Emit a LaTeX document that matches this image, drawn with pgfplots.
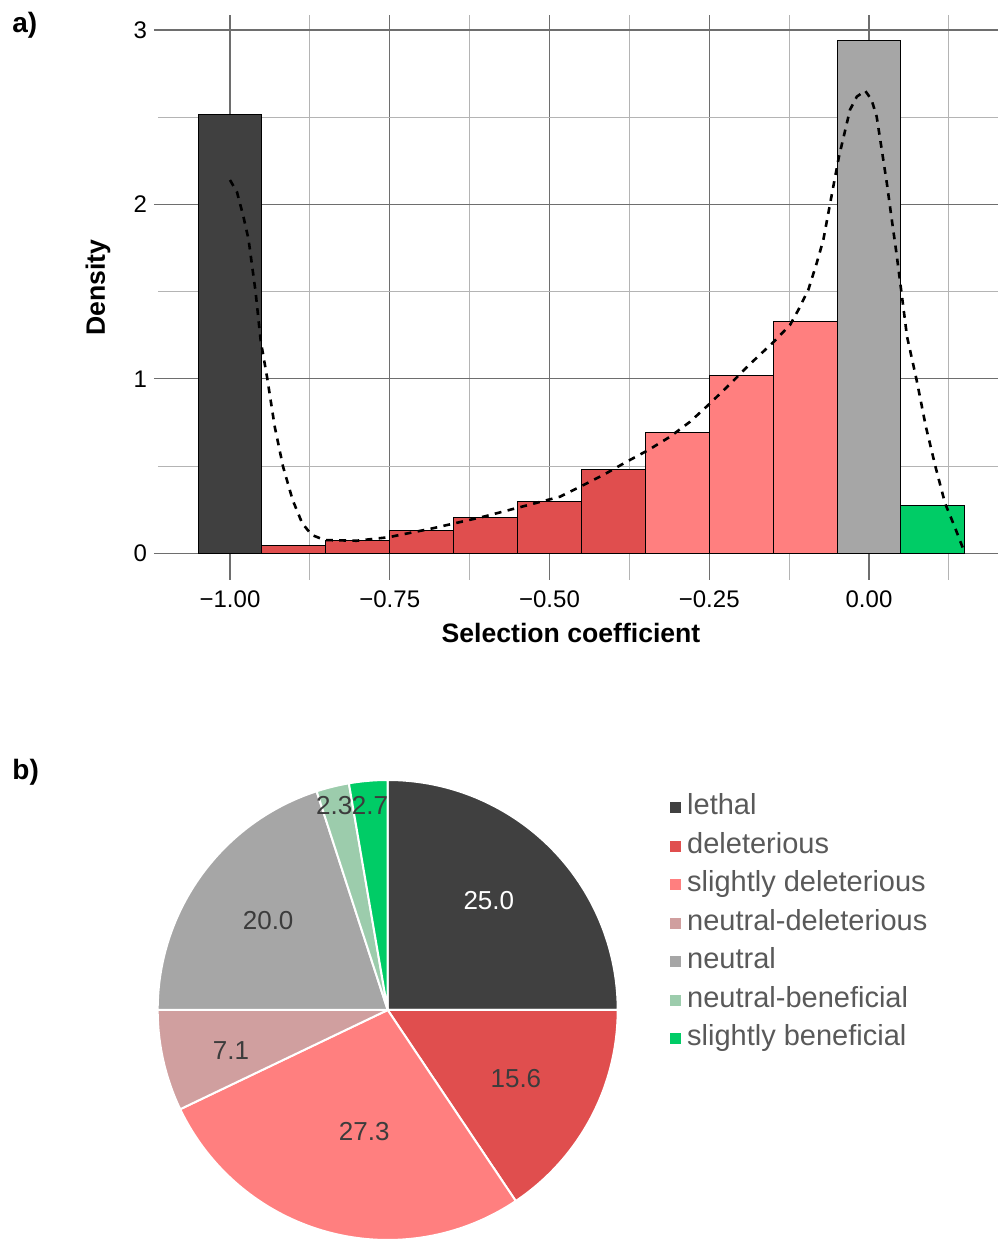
\documentclass[border=0pt]{standalone}
\usepackage{pgfplots}
\pgfplotsset{compat=1.18}
\usepackage{fontspec}
\setmainfont{Liberation Sans}
\definecolor{lethal}{HTML}{404040}
\definecolor{delet}{HTML}{E04E4E}
\definecolor{sdelet}{HTML}{FF7F7F}
\definecolor{ndelet}{HTML}{D09F9F}
\definecolor{neutral}{HTML}{A6A6A6}
\definecolor{nbenef}{HTML}{9CCCAC}
\definecolor{sbenef}{HTML}{00CC66}
\definecolor{majgrid}{HTML}{6E6E6E}
\definecolor{mingrid}{HTML}{B4B4B4}
\definecolor{pietext}{HTML}{3C3C3C}
\definecolor{legtext}{HTML}{595959}

% pie shares (percent)
\def\vA{25.0}\def\vB{15.6}\def\vC{27.3}\def\vD{7.1}\def\vE{20.0}\def\vF{2.3}\def\vG{2.7}

\newcommand\slice[3]{\fill[#3, draw=white, line width=1pt, line join=round] (axis cs:0,0) -- (axis cs:{cos(#1)},{sin(#1)}) arc[start angle=#1, end angle=#2, radius=115pt] -- cycle;}
% #1,#2 slice angles, #3 radius factor, #4 text, #5 colour, #6 angular offset
\newcommand\plabel[6]{\node[text=#5, font=\fontsize{13}{15}\selectfont, inner sep=0pt] at (axis cs:{#3*cos(((#1)+(#2))/2+(#6))},{#3*sin(((#1)+(#2))/2+(#6))}) {#4};}
\newcommand\legsq[1]{\addlegendimage{legend image code/.code={\fill[#1] (0pt,-2.5pt) rectangle (5pt,2.5pt);}}}

\begin{document}
\begin{tikzpicture}
\useasboundingbox (0,0) rectangle (499pt,619.5pt);
\pgfmathsetmacro\aA{90}
\pgfmathsetmacro\aB{\aA-3.6*\vA}
\pgfmathsetmacro\aC{\aB-3.6*\vB}
\pgfmathsetmacro\aD{\aC-3.6*\vC}
\pgfmathsetmacro\aE{\aD-3.6*\vD}
\pgfmathsetmacro\aF{\aE-3.6*\vE}
\pgfmathsetmacro\aG{\aF-3.6*\vF}
\pgfmathsetmacro\aH{\aG-3.6*\vG}

\node[anchor=base west, inner sep=0pt, font=\fontsize{14}{16}\selectfont\bfseries] at (6pt,603pt) {a)};
\node[anchor=base west, inner sep=0pt, font=\fontsize{14}{16}\selectfont\bfseries] at (6pt,229.5pt) {b)};

\begin{axis}[
  at={(79pt,329.5pt)}, anchor=south west,
  scale only axis, width=420pt, height=282.5pt,
  xmin=-1.11268, xmax=0.20188, ymin=-0.1531, ymax=3.086,
  axis line style={draw=none},
  xtick={-1,-0.75,-0.5,-0.25,0},
  xticklabels={−1.00,−0.75,−0.50,−0.25,0.00},
  ytick={0,1,2,3}, yticklabels={0,1,2,3},
  minor xtick={-0.875,-0.625,-0.375,-0.125,0.125},
  minor ytick={0.5,1.5,2.5},
  xmajorgrids, ymajorgrids, xminorgrids, yminorgrids,
  major grid style={majgrid, line width=0.6pt},
  minor grid style={mingrid, line width=0.5pt},
  xtick style={draw=none}, minor tick style={draw=none},
  ytick style={majgrid, line width=0.6pt},
  tick align=outside, major tick length=2pt,
  ytick pos=left,
  tick label style={font=\fontsize{12}{14}\selectfont, black},
  /pgf/number format/assume math mode=true,
  xlabel={Selection coefficient}, ylabel={Density},
  label style={font=\fontsize{13.3}{15}\selectfont\bfseries},
  xlabel style={at={(axis description cs:0.4917,0)}, anchor=center, yshift=-26.35pt},
  ylabel style={at={(axis description cs:-0.0714,0.517)}, anchor=center},
]
\addplot[ybar interval, fill=lethal, draw=black, line width=0.5pt] coordinates {(-1.05,2.515) (-0.95,0)};
\addplot[ybar interval, fill=delet, draw=black, line width=0.5pt] coordinates {(-0.95,0.042) (-0.85,0.072) (-0.75,0.130) (-0.65,0.207) (-0.55,0.296) (-0.45,0.480) (-0.35,0)};
\addplot[ybar interval, fill=sdelet, draw=black, line width=0.5pt] coordinates {(-0.35,0.692) (-0.25,1.019) (-0.15,1.329) (-0.05,0)};
\addplot[ybar interval, fill=neutral, draw=black, line width=0.5pt] coordinates {(-0.05,2.937) (0.05,0)};
\addplot[ybar interval, fill=sbenef, draw=black, line width=0.5pt] coordinates {(0.05,0.273) (0.15,0)};
\addplot[black, line width=1.3pt, dash pattern=on 3.4pt off 3.2pt] coordinates {
(-1.000,2.14) (-0.989,2.07) (-0.979,1.93) (-0.971,1.80) (-0.960,1.50) (-0.952,1.22)
(-0.942,1.01) (-0.930,0.726) (-0.917,0.497) (-0.902,0.306) (-0.887,0.172) (-0.872,0.105)
(-0.852,0.076) (-0.802,0.072) (-0.752,0.092) (-0.683,0.143) (-0.603,0.210) (-0.533,0.277)
(-0.4836,0.3245) (-0.452,0.382) (-0.4158,0.449) (-0.3792,0.525) (-0.3453,0.592)
(-0.3114,0.668) (-0.2801,0.754) (-0.2515,0.850) (-0.2175,0.970) (-0.1862,1.085)
(-0.1498,1.210) (-0.1236,1.309) (-0.1106,1.395) (-0.095,1.510) (-0.0819,1.663)
(-0.0715,1.796) (-0.0637,1.949) (-0.0559,2.102) (-0.047,2.274)
(-0.0376,2.420) (-0.0297,2.543) (-0.019,2.618) (-0.006,2.652) (0.004,2.60) (0.012,2.504)
(0.020,2.313) (0.028,2.12) (0.035,1.93) (0.043,1.72) (0.051,1.49) (0.0595,1.243)
(0.0745,0.994) (0.089,0.726) (0.104,0.497) (0.119,0.287) (0.134,0.153) (0.149,0.01)};
\end{axis}

\begin{axis}[
  at={(193.85pt,114.5pt)}, anchor=center,
  scale only axis, width=230pt, height=230pt,
  xmin=-1, xmax=1, ymin=-1, ymax=1,
  hide axis, clip=false,
  legend cell align=left,
  legend style={draw=none, fill=none, at={(axis description cs:1.1137,0.9696)}, anchor=north west,
    font=\fontsize{14.5}{17}\selectfont, text=legtext, inner sep=0pt, outer sep=0pt,
    row sep=5.75pt, nodes={inner sep=0pt, text height=10.5pt, text depth=3pt},
    /tikz/column 1/.style={column sep=3.2pt}},
]
\slice{\aA}{\aB}{lethal}
\slice{\aB}{\aC}{delet}
\slice{\aC}{\aD}{sdelet}
\slice{\aD}{\aE}{ndelet}
\slice{\aE}{\aF}{neutral}
\slice{\aF}{\aG}{nbenef}
\slice{\aG}{\aH}{sbenef}
\plabel{\aA}{\aB}{0.647}{\vA}{white}{2.2}
\plabel{\aB}{\aC}{0.633}{\vB}{pietext}{-0.2}
\plabel{\aC}{\aD}{0.540}{\vC}{pietext}{4.4}
\plabel{\aD}{\aE}{0.704}{\vD}{pietext}{1.7}
\plabel{\aE}{\aF}{0.650}{\vE}{pietext}{-0.9}
\plabel{\aF}{\aG}{0.918}{\vF}{pietext}{0.8}
\plabel{\aG}{\aH}{0.891}{\vG}{pietext}{0.1}
\legsq{lethal}\addlegendentry{lethal}
\legsq{delet}\addlegendentry{deleterious}
\legsq{sdelet}\addlegendentry{slightly deleterious}
\legsq{ndelet}\addlegendentry{neutral-deleterious}
\legsq{neutral}\addlegendentry{neutral}
\legsq{nbenef}\addlegendentry{neutral-beneficial}
\legsq{sbenef}\addlegendentry{slightly beneficial}
\end{axis}
\end{tikzpicture}
\end{document}
